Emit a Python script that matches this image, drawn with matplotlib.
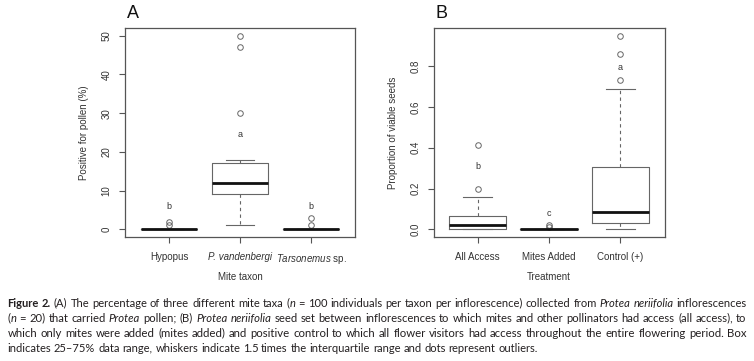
import re
import math
import matplotlib
matplotlib.use("Agg")
import matplotlib.pyplot as plt
from matplotlib import font_manager
from matplotlib.font_manager import FontProperties

# ---------------- data ----------------
taxa = ["Hypopus", "P. vandenbergi", "Tarsonemus sp."]
taxa_q1 = [0, 9, 0]
taxa_med = [0, 12, 0]
taxa_q3 = [0, 17, 0]
taxa_whislo = [0, 1, 0]
taxa_whishi = [0, 18, 0]
taxa_fliers = [[1, 2], [30, 47, 50], [1, 3]]
taxa_letters = ["b", "a", "b"]
taxa_letter_y = [6, 24.5, 6]
taxa_yticks = [0, 10, 20, 30, 40, 50]

treat = ["All Access", "Mites Added", "Control (+)"]
treat_q1 = [0, 0, 0.03]
treat_med = [0.02, 0, 0.085]
treat_q3 = [0.065, 0, 0.305]
treat_whislo = [0, 0, 0]
treat_whishi = [0.16, 0, 0.69]
treat_fliers = [[0.2, 0.415], [0.01, 0.022], [0.735, 0.858, 0.95]]
treat_letters = ["b", "c", "a"]
treat_letter_y = [0.31, 0.075, 0.795]
treat_yticks = [0.0, 0.2, 0.4, 0.6, 0.8]
treat_ytick_labels = ["0.0", "0.2", "0.4", "0.6", "0.8"]

caption_lines = [
    [("Figure 2.", "b"), (" (A) The percentage of three different mite taxa (", "n"), ("n", "i"),
     (" = 100 individuals per taxon per inflorescence) collected from ", "n"),
     ("Protea neriifolia", "i"), (" inflorescences", "n")],
    [("(", "n"), ("n", "i"), (" = 20) that carried ", "n"), ("Protea", "i"), (" pollen; (B) ", "n"),
     ("Protea neriifolia", "i"),
     (" seed set between inflorescences to which mites and other pollinators had access (all access), to", "n")],
    [("which only mites were added (mites added) and positive control to which all flower visitors had "
      "access throughout the entire flowering period. Box", "n")],
    [("indicates 25\u201375% data range, whiskers indicate 1.5 times the interquartile range and dots "
      "represent outliers.", "n")],
]

# ---------------- style ----------------
W, H = 754, 361
plt.rcParams["font.family"] = ["Liberation Sans", "DejaVu Sans"]
plt.rcParams["mathtext.fontset"] = "custom"
plt.rcParams["mathtext.rm"] = "Liberation Sans"
plt.rcParams["mathtext.it"] = "Liberation Sans:italic"

installed = {f.name for f in font_manager.fontManager.ttflist}
cap_font = "Liberation Sans Narrow" if "Liberation Sans Narrow" in installed else "Lato"

frame_c = "#555555"
line_c = "#666666"
text_c = "#333333"

fig = plt.figure(figsize=(W / 100, H / 100), dpi=100)
fig.patch.set_facecolor("white")


def make_stats(q1, med, q3, lo, hi, fl):
    return [dict(q1=a, med=b, q3=c, whislo=d, whishi=e, fliers=f)
            for a, b, c, d, e, f in zip(q1, med, q3, lo, hi, fl)]


def draw_panel(rect, stats, ylim, yticks, ylabels, xlabels, letters, letter_y,
               xlabel, ylabel, panel, ylab_x, xlab_y):
    ax = fig.add_axes(rect)
    ax.bxp(stats, positions=[1, 2, 3], widths=0.8, capwidths=0.4, manage_ticks=False,
           boxprops=dict(color=line_c, lw=0.8),
           medianprops=dict(color="#111111", lw=2.0, solid_capstyle="butt"),
           whiskerprops=dict(color=line_c, lw=0.8, linestyle=(0, (3, 3))),
           capprops=dict(color=line_c, lw=0.8),
           flierprops=dict(marker="o", mfc="none", mec=line_c, ms=4, mew=0.7, linestyle="none"))
    ax.set_xlim(0.38, 3.62)
    ax.set_ylim(*ylim)
    ax.set_xticks([1, 2, 3])
    ax.set_xticklabels(xlabels, fontsize=7, color=text_c)
    ax.set_yticks(yticks)
    ax.set_yticklabels(ylabels, fontsize=7, color=text_c, rotation=90, va="center")
    ax.tick_params(direction="out", length=4.5, width=0.8, color=frame_c)
    ax.tick_params(axis="x", pad=6)
    ax.tick_params(axis="y", pad=5)
    for s in ax.spines.values():
        s.set_color(frame_c)
        s.set_linewidth(0.9)
    for x, (lt, ly) in enumerate(zip(letters, letter_y), start=1):
        ax.text(x, ly, lt, ha="center", va="center", fontsize=6.5, color=text_c)
    l, b, w, h = rect
    fig.text(l + w / 2, 1 - xlab_y / H, xlabel, ha="center", va="center", fontsize=7, color=text_c)
    fig.text(ylab_x / W, b + h / 2, ylabel, ha="center", va="center", rotation=90,
             fontsize=7, color=text_c)
    fig.text(l + 2 / W, 1 - 13 / H, panel, ha="left", va="center", fontsize=13, color="#111111")
    return ax


axA = draw_panel([125 / W, 1 - 237 / H, 230 / W, 209 / H],
                 make_stats(taxa_q1, taxa_med, taxa_q3, taxa_whislo, taxa_whishi, taxa_fliers),
                 (-2, 52), taxa_yticks, [str(v) for v in taxa_yticks],
                 ["Hypopus", "P. vandenbergi", r"$\mathit{Tarsonemus}$ sp."],
                 taxa_letters, taxa_letter_y, "Mite taxon", "Positive for pollen (%)", "A", 84, 277)
axA.get_xticklabels()[1].set_fontstyle("italic")

axB = draw_panel([433.5 / W, 1 - 237 / H, 231 / W, 209 / H],
                 make_stats(treat_q1, treat_med, treat_q3, treat_whislo, treat_whishi, treat_fliers),
                 (-0.038, 0.988), treat_yticks, treat_ytick_labels, treat,
                 treat_letters, treat_letter_y, "Treatment", "Proportion of viable seeds", "B", 393, 277)

# ---------------- caption (justified) ----------------
fig.canvas.draw()
renderer = fig.canvas.get_renderer()
styles = {"n": {}, "i": {"style": "italic"}, "b": {"weight": "bold"}}


def props(st, size):
    d = dict(fontsize=size, family=[cap_font, "DejaVu Sans"], color="#231f20")
    d.update(styles[st])
    return d


def fprop(st, size):
    return FontProperties(family=[cap_font, "DejaVu Sans"], size=size,
                          style=styles[st].get("style", "normal"),
                          weight=styles[st].get("weight", "normal"))


def measure(s, st, size):
    t = fig.text(0, 0, s, **props(st, size))
    w = t.get_window_extent(renderer).width
    t.remove()
    return w


x_left = 7.5
line_right = [746.5, 746.5, 746.5, 531.0]
baselines = [307, 322, 337, 352]


def layout(runs, size):
    items = []
    for text, st in runs:
        for tok in re.findall(r"\S+|\s+", text):
            items.append(None if tok.isspace() else (tok, st, measure(tok, st, size)))
    return items


for li, runs in enumerate(caption_lines):
    justify = li < len(caption_lines) - 1
    target = line_right[li] - x_left
    size = 8.9
    while True:
        space_w = measure("x x", "n", size) - measure("xx", "n", size)
        items = layout(runs, size)
        words_w = sum(it[2] for it in items if it)
        n_sp = sum(1 for it in items if it is None)
        gap = (target - words_w) / n_sp
        if gap >= 1.05 * space_w or size <= 8.0:
            break
        size -= 0.05
    if not justify:
        gap = space_w
    x = x_left
    B = baselines[li]
    for it in items:
        if it is None:
            x += gap
            continue
        tok, st, w = it
        # keep every word on the same pixel baseline despite different descents
        _, th, td = renderer.get_text_width_height_descent(tok, fprop(st, size), ismath=False)
        yb = B + math.floor(th) - math.floor(th - td) - td
        fig.text(x / W, (H - yb) / H, tok, ha="left", va="baseline", **props(st, size))
        x += w

fig.savefig("out.png", dpi=100, facecolor="white")
